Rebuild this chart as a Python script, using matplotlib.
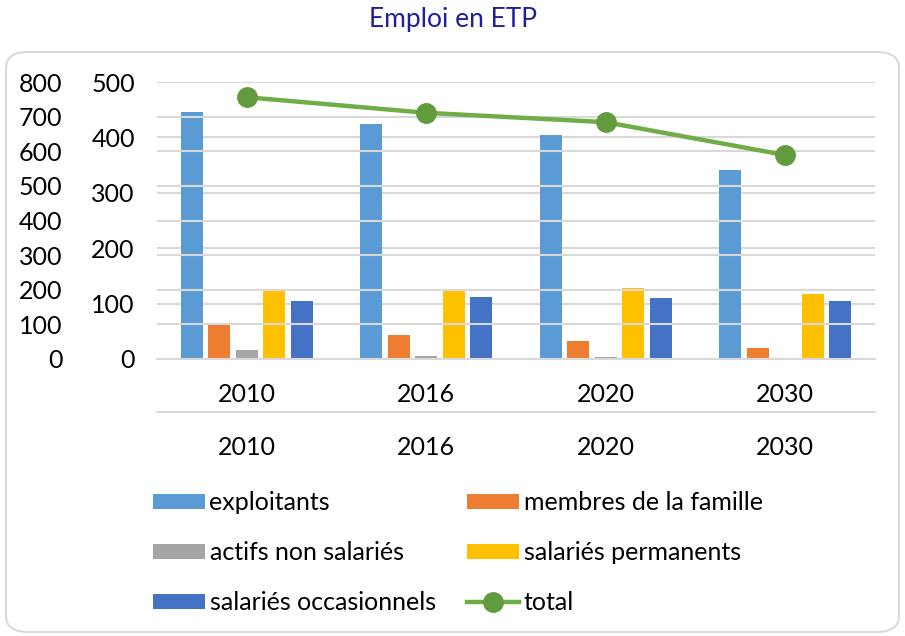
import matplotlib.pyplot as plt
import numpy as np
from matplotlib.patches import FancyBboxPatch

plt.rcParams['font.family'] = ['Lato', 'DejaVu Sans']

# Data
years = ['2010', '2016', '2020', '2030']
exploitants = [445, 424, 405, 342]
membres = [62, 43, 32, 20]
actifs = [16, 6, 4, 1]
permanents = [124, 123, 128, 117]
occasionnels = [105, 112, 111, 104]
total = [756, 711, 684, 589]

series = [
    ('exploitants', exploitants, '#5B9BD5'),
    ('membres de la famille', membres, '#ED7D31'),
    ('actifs non salariés', actifs, '#A5A5A5'),
    ('salariés permanents', permanents, '#FFC000'),
    ('salariés occasionnels', occasionnels, '#4472C4'),
]

grid_col = '#D9D9D9'
txt_col = '#000000'
fs = 18

fig = plt.figure(figsize=(9.05, 6.36), dpi=100)

# rounded chart border
border = FancyBboxPatch((6 / 905, 4 / 636), 893 / 905, 580 / 636,
                        boxstyle='round,pad=0,rounding_size=0.025',
                        transform=fig.transFigure, facecolor='none',
                        edgecolor=grid_col, linewidth=1.5, zorder=-1)
fig.patches.append(border)

ax = fig.add_axes([157 / 905, 1 - 359 / 636, 718 / 905, 277 / 636])
ax.set_facecolor('none')
ax2 = ax.twinx()

x = np.arange(len(years))
slot = 0.153
width = 0.121
handles = {}
for i, (name, vals, col) in enumerate(series):
    b = ax.bar(x + (i - 2) * slot, vals, width, color=col, label=name, zorder=3)
    handles[name] = b

ax.set_xlim(-0.5, len(years) - 0.5)
ax.set_ylim(0, 500)
ax.set_yticks(range(0, 501, 100))
ax.set_xticks(x)
ax.set_xticklabels(years)

ln, = ax2.plot(x, total, color='#70AD47', linewidth=3.2, marker='o',
               markersize=14, markerfacecolor='#629B3D', markeredgecolor='#629B3D',
               label='total', zorder=4)
ax2.set_ylim(0, 800)
ax2.set_yticks(range(0, 801, 100))
ax2.yaxis.set_ticks_position('left')
ax2.yaxis.set_label_position('left')

for a in (ax, ax2):
    for s in a.spines.values():
        s.set_visible(False)
    a.yaxis.grid(True, color=grid_col, linewidth=1.5, zorder=0)
    a.set_axisbelow(True)
    a.tick_params(axis='both', length=0, labelsize=fs, colors=txt_col)

ax.spines['bottom'].set_visible(True)
ax.spines['bottom'].set_color(grid_col)
ax.spines['bottom'].set_linewidth(1.5)
ax.tick_params(axis='y', pad=16)
ax.tick_params(axis='x', pad=17)
ax2.tick_params(axis='y', pad=68)
ax2.tick_params(axis='x', bottom=False, labelbottom=False)

# second category axis (for the line series)
sec = ax.secondary_xaxis(-53 / 277)
sec.set_xticks(x)
sec.set_xticklabels(years)
sec.tick_params(length=0, labelsize=fs, pad=17, colors=txt_col)
sec.spines['bottom'].set_color(grid_col)
sec.spines['bottom'].set_linewidth(1.5)

fig.text(0.5, 1 - 20 / 636, 'Emploi en ETP', ha='center', va='center',
         fontsize=19, color='#1F1F99')

order = ['exploitants', 'actifs non salariés', 'salariés occasionnels',
         'membres de la famille', 'salariés permanents']
hs = [handles[n] for n in order] + [ln]
labels = order + ['total']
fig.legend(hs, labels, loc='upper left', bbox_to_anchor=(130 / 905, 1 - 469 / 636),
           ncol=2, frameon=False, fontsize=fs, handlelength=2.08, handleheight=0.56,
           handletextpad=0.2, labelspacing=1.07, columnspacing=1.25)

fig.savefig('out.png', dpi=100)
